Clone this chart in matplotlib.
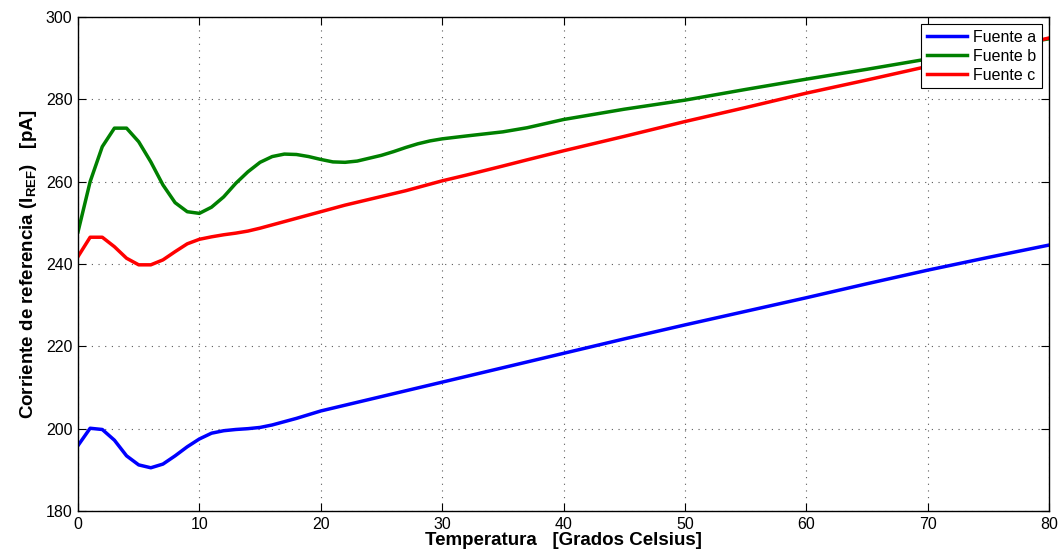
import matplotlib
matplotlib.use("Agg")
import matplotlib.pyplot as plt

plt.rcParams['font.family'] = ['Liberation Sans', 'DejaVu Sans']
plt.rcParams['mathtext.fontset'] = 'custom'
plt.rcParams['mathtext.rm'] = 'Liberation Sans'
plt.rcParams['mathtext.bf'] = 'Liberation Sans:bold'

temp = [0, 1, 2, 3, 4, 5, 6, 7, 8, 9, 10, 11, 12, 13, 14, 15, 16, 17, 18, 19,
        20, 21, 22, 23, 24, 25, 26, 27, 28, 29, 30, 32, 35, 37, 40, 45, 50,
        55, 60, 65, 70, 75, 80]

fuente_a = [195.9, 200.1, 199.8, 197.2, 193.4, 191.2, 190.5, 191.4, 193.4, 195.6,
            197.5, 198.9, 199.5, 199.8, 200.0, 200.3, 200.9, 201.7, 202.5, 203.4,
            204.3, 205.0, 205.7, 206.4, 207.1, 207.8, 208.5, 209.2, 209.9, 210.6,
            211.3, 212.7, 214.8, 216.2, 218.3, 221.8, 225.2, 228.5, 231.8, 235.2,
            238.5, 241.6, 244.6]

fuente_b = [247.8, 260.0, 268.5, 273.0, 273.0, 269.7, 264.8, 259.2, 254.9, 252.7,
            252.3, 253.8, 256.3, 259.6, 262.4, 264.7, 266.1, 266.7, 266.6, 266.1,
            265.4, 264.8, 264.7, 265.0, 265.7, 266.4, 267.3, 268.3, 269.2, 269.9,
            270.4, 271.1, 272.1, 273.1, 275.1, 277.6, 279.8, 282.4, 284.9, 287.3,
            289.8, 292.3, 294.7]

fuente_c = [241.8, 246.5, 246.5, 244.2, 241.4, 239.8, 239.8, 241.0, 243.0, 244.9,
            246.0, 246.6, 247.1, 247.5, 248.0, 248.7, 249.5, 250.3, 251.1, 251.9,
            252.7, 253.5, 254.3, 255.0, 255.7, 256.4, 257.1, 257.8, 258.6, 259.4,
            260.2, 261.6, 263.8, 265.3, 267.5, 271.0, 274.6, 278.0, 281.5, 284.7,
            288.0, 291.4, 294.9]

series = [("Fuente a", fuente_a, (0, 0, 1)),
          ("Fuente b", fuente_b, (0, 0.5, 0)),
          ("Fuente c", fuente_c, (1, 0, 0))]

xticks = [0, 10, 20, 30, 40, 50, 60, 70, 80]
yticks = [180, 200, 220, 240, 260, 280, 300]

fig = plt.figure(figsize=(10.62, 5.55), dpi=100)
ax = fig.add_axes([78/1062, 44/555, (1049-78)/1062, (511-17)/555])

for name, vals, col in series:
    ax.plot(temp, vals, color=col, lw=2.5, label=name)

ax.set_xlim(0, 80)
ax.set_ylim(180, 300)
ax.set_xticks(xticks)
ax.set_yticks(yticks)
ax.tick_params(direction='in', top=True, right=True, length=6, width=0.8,
               labelsize=11.5, pad=4)
ax.grid(True, linestyle=(0, (1, 5)), color='0.35', lw=0.8)
for s in ax.spines.values():
    s.set_linewidth(1.0)
    s.set_color('black')

ax.set_xlabel('Temperatura   [Grados Celsius]', fontsize=13.5, fontweight='bold', labelpad=0)
ax.set_ylabel(r'Corriente de referencia (I$_{\mathbf{REF}}$)   [pA]', fontsize=13.5,
              fontweight='bold', labelpad=5)

leg = ax.legend(loc='upper right', fontsize=11.5, fancybox=False, framealpha=1,
                edgecolor='black', borderaxespad=0.45, handlelength=2.5,
                labelspacing=0.25, borderpad=0.35, handletextpad=0.4)
leg.get_frame().set_linewidth(0.8)

fig.savefig('out.png', dpi=100)
